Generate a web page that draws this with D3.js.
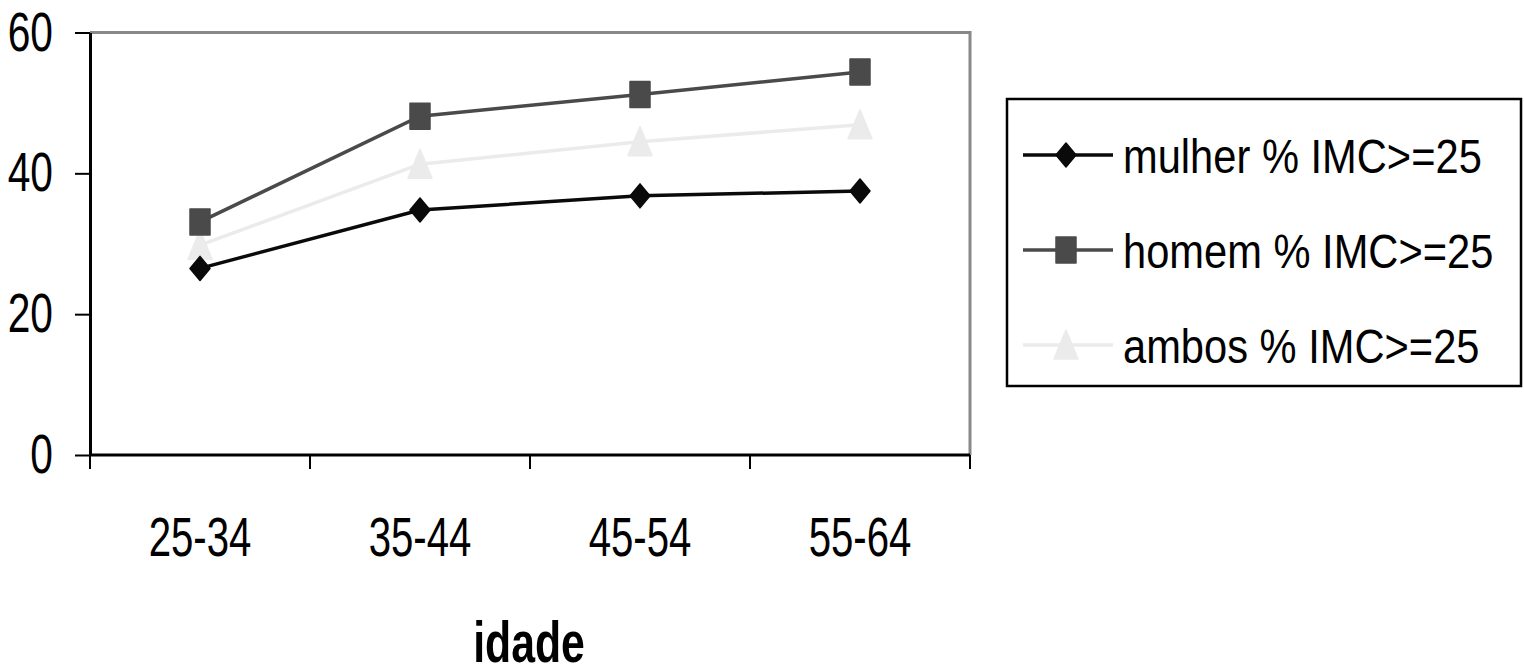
<!DOCTYPE html>
<html>
<head>
<meta charset="utf-8">
<script src="https://cdn.jsdelivr.net/npm/d3@7/dist/d3.min.js"></script>
<style>
  html, body { margin: 0; padding: 0; background: #fff; }
  svg { display: block; }
  text { font-family: "Liberation Sans", Arial, sans-serif; }
</style>
</head>
<body>
<svg id="chart" width="1524" height="668"></svg>
<script>
const categories = ["25-34", "35-44", "45-54", "55-64"];
const mulher = [26.5, 34.8, 36.8, 37.5];
const homem = [33.1, 48.1, 51.2, 54.4];
const ambos = [29.8, 41.3, 44.5, 46.9];
const yTicks = [0, 20, 40, 60];
const seriesNames = ["mulher % IMC>=25", "homem % IMC>=25", "ambos % IMC>=25"];
const xTitle = "idade";

const series = [
  { name: seriesNames[0], values: mulher, color: "#0a0a0a", marker: "diamond" },
  { name: seriesNames[1], values: homem, color: "#4a4a4a", marker: "square" },
  { name: seriesNames[2], values: ambos, color: "#ebebeb", marker: "triangle" }
];

const svg = d3.select("#chart");
const pLeft = 90, pRight = 970, pTop = 32.5, pBottom = 455;

// condense text horizontally (reference uses a narrow font)
function narrow(sel, k) {
  sel.each(function () {
    const w = this.getComputedTextLength();
    d3.select(this).attr("textLength", w * k).attr("lengthAdjust", "spacingAndGlyphs");
  });
}

const x = d3.scaleBand().domain(categories).range([pLeft, pRight]);
const y = d3.scaleLinear().domain([0, 60]).range([pBottom, pTop]);

// plot frame (top/right gray)
svg.append("path")
  .attr("d", `M${pLeft},${pTop}H${pRight}V${pBottom}`)
  .attr("fill", "none").attr("stroke", "#888").attr("stroke-width", 3);

// y axis
const yAxis = svg.append("g").attr("transform", `translate(${pLeft},0)`)
  .call(d3.axisLeft(y).tickValues(yTicks).tickSize(15).tickSizeOuter(0).tickPadding(22));
yAxis.select(".domain").attr("stroke", "#000").attr("stroke-width", 3);
yAxis.selectAll(".tick line").attr("stroke", "#000").attr("stroke-width", 2);
yAxis.selectAll(".tick text").attr("font-size", 55).attr("fill", "#000")
  .attr("font-family", '"Liberation Sans", Arial, sans-serif').call(narrow, 0.74);

// x axis
const xAxis = svg.append("g").attr("transform", `translate(0,${pBottom})`)
  .call(d3.axisBottom(x).tickSize(0).tickPadding(62));
xAxis.select(".domain").remove();
xAxis.append("line").attr("x1", pLeft).attr("x2", pRight).attr("y1", 0).attr("y2", 0)
  .attr("stroke", "#000").attr("stroke-width", 3);
const bounds = [pLeft].concat(categories.map(c => x(c) + x.bandwidth()));
xAxis.selectAll(".sep").data(bounds).enter().append("line")
  .attr("x1", d => d).attr("x2", d => d).attr("y1", 0).attr("y2", 14)
  .attr("stroke", "#000").attr("stroke-width", 2);
xAxis.selectAll(".tick text").attr("font-size", 55).attr("fill", "#000")
  .attr("font-family", '"Liberation Sans", Arial, sans-serif').call(narrow, 0.73);

// x title
svg.append("text").attr("x", 529).attr("y", 662).attr("text-anchor", "middle")
  .attr("font-size", 57).attr("font-weight", "bold").attr("fill", "#000").text(xTitle)
  .call(narrow, 0.75);

function markerPath(type) {
  if (type === "diamond") return "M0,-12L10,0L0,12L-10,0Z";
  if (type === "square") return "M-10,-13H10V13H-10Z";
  return "M0,-15L12,14H-12Z";
}

const line = d3.line().x((d, i) => x(categories[i]) + x.bandwidth() / 2).y(d => y(d));

// draw ambos first (back), then homem, then mulher
[series[2], series[1], series[0]].forEach(s => {
  svg.append("path").datum(s.values).attr("d", line)
    .attr("fill", "none").attr("stroke", s.color).attr("stroke-width", 3.5);
  svg.selectAll(null).data(s.values).enter().append("path")
    .attr("transform", (d, i) => `translate(${x(categories[i]) + x.bandwidth() / 2},${y(d)})`)
    .attr("d", markerPath(s.marker))
    .attr("fill", s.color).attr("stroke", s.color).attr("stroke-width", 1.5)
    .attr("stroke-linejoin", "round");
});

// legend
const lg = svg.append("g");
lg.append("rect").attr("x", 1007).attr("y", 99).attr("width", 514).attr("height", 287)
  .attr("fill", "#fff").attr("stroke", "#000").attr("stroke-width", 2.5);
const rowsY = [155, 250, 345];
series.forEach((s, i) => {
  const g = lg.append("g").attr("transform", `translate(0,${rowsY[i]})`);
  g.append("line").attr("x1", 1023).attr("x2", 1113).attr("y1", 0).attr("y2", 0)
    .attr("stroke", s.color).attr("stroke-width", 3.5);
  g.append("path").attr("transform", "translate(1066,0)").attr("d", markerPath(s.marker))
    .attr("fill", s.color).attr("stroke", s.color).attr("stroke-width", 1.5).attr("stroke-linejoin", "round");
  g.append("text").attr("x", 1123).attr("y", 0).attr("dy", "0.36em")
    .attr("font-size", 49).attr("fill", "#000").text(s.name).call(narrow, 0.85);
});
</script>
</body>
</html>
